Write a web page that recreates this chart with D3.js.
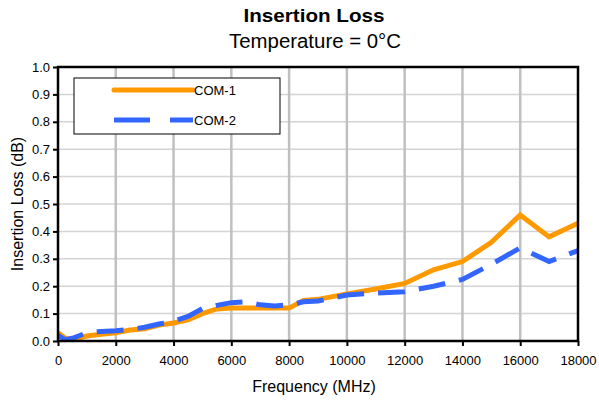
<!DOCTYPE html>
<html>
<head>
<meta charset="utf-8">
<script src="https://cdn.jsdelivr.net/npm/d3@7"></script>
<style>
  html, body { margin: 0; padding: 0; background: #fff; }
  svg { display: block; font-family: "Liberation Sans", Arial, sans-serif; }
</style>
</head>
<body>
<svg id="chart" width="599" height="400"></svg>
<script>
const title = "Insertion Loss";
const subtitle = "Temperature = 0°C";
const xTitle = "Frequency (MHz)";
const yTitle = "Insertion Loss (dB)";
const seriesNames = ["COM-1", "COM-2"];
const seriesColors = ["#ff9900", "#3366ff"];
const xTicks = [0, 2000, 4000, 6000, 8000, 10000, 12000, 14000, 16000, 18000];
const yTicks = [0, 0.1, 0.2, 0.3, 0.4, 0.5, 0.6, 0.7, 0.8, 0.9, 1.0];

const freq = [0, 250, 500, 1000, 1500, 2000, 2500, 3000, 3500, 4000, 4500, 5000, 5500, 6000, 6500, 7000, 7500, 8000, 8500, 9000, 10000, 11000, 12000, 13000, 14000, 15000, 16000, 17000, 18000];
const com1 = [0.03, 0.01, 0.005, 0.018, 0.025, 0.03, 0.04, 0.045, 0.058, 0.066, 0.077, 0.10, 0.117, 0.12, 0.12, 0.12, 0.12, 0.12, 0.148, 0.152, 0.172, 0.19, 0.21, 0.26, 0.29, 0.36, 0.46, 0.38, 0.43];
const com2 = [0.02, 0.005, 0.01, 0.03, 0.035, 0.037, 0.042, 0.05, 0.062, 0.072, 0.09, 0.118, 0.13, 0.14, 0.143, 0.132, 0.128, 0.132, 0.143, 0.146, 0.168, 0.175, 0.18, 0.20, 0.225, 0.28, 0.34, 0.29, 0.33];

const svg = d3.select("#chart");
const L = 58, R = 578, T = 67, B = 341;
const x = d3.scaleLinear().domain([0, 18000]).range([L, R]);
const y = d3.scaleLinear().domain([0, 1]).range([B, T]);

// titles
svg.append("text").attr("x", 314).attr("y", 22).attr("text-anchor", "middle")
  .attr("font-size", 19).attr("font-weight", "bold")
  .attr("textLength", 141).attr("lengthAdjust", "spacingAndGlyphs").text(title);
svg.append("text").attr("x", 315).attr("y", 48).attr("text-anchor", "middle")
  .attr("font-size", 19.5)
  .attr("textLength", 172).attr("lengthAdjust", "spacingAndGlyphs").text(subtitle);

// gridlines
svg.append("g").selectAll("line").data(yTicks.slice(1, -1)).join("line")
  .attr("x1", L).attr("x2", R).attr("y1", d => y(d)).attr("y2", d => y(d))
  .attr("stroke", "#d4d4d4").attr("stroke-width", 1.5);
svg.append("g").selectAll("line").data(xTicks.slice(1, -1)).join("line")
  .attr("y1", T).attr("y2", B).attr("x1", d => x(d)).attr("x2", d => x(d))
  .attr("stroke", "#c0c0c0").attr("stroke-width", 2.5);

// axes
const xAxis = d3.axisBottom(x).tickValues(xTicks).tickFormat(d3.format("d")).tickSize(5).tickSizeOuter(0);
const gx = svg.append("g").attr("transform", `translate(0,${B})`).call(xAxis);
gx.select(".domain").remove();
gx.selectAll(".tick line").attr("stroke", "#000").attr("stroke-width", 2);
gx.selectAll(".tick text").attr("font-size", 13).attr("fill", "#000").attr("y", 24).attr("dy", 0)
  .attr("font-family", "Liberation Sans, Arial, sans-serif");

const yAxis = d3.axisLeft(y).tickValues(yTicks).tickFormat(d3.format(".1f")).tickSize(5).tickSizeOuter(0);
const gy = svg.append("g").attr("transform", `translate(${L},0)`).call(yAxis);
gy.select(".domain").remove();
gy.selectAll(".tick line").attr("stroke", "#000").attr("stroke-width", 2);
gy.selectAll(".tick text").attr("font-size", 13).attr("fill", "#000").attr("x", -8)
  .attr("font-family", "Liberation Sans, Arial, sans-serif");

// axis titles
svg.append("text").attr("x", 314).attr("y", 392).attr("text-anchor", "middle")
  .attr("font-size", 16).text(xTitle);
svg.append("text").attr("transform", `translate(23,${(T + B) / 2}) rotate(-90)`)
  .attr("text-anchor", "middle").attr("font-size", 16).text(yTitle);

// lines
const line = d3.line().x(d => x(d[0])).y(d => y(d[1]));
const data1 = freq.map((f, i) => [f, com1[i]]);
const data2 = freq.map((f, i) => [f, com2[i]]);
svg.append("path").datum(data1).attr("d", line).attr("fill", "none")
  .attr("stroke", seriesColors[0]).attr("stroke-width", 5).attr("stroke-linejoin", "miter");
svg.append("path").datum(data2).attr("d", line).attr("fill", "none")
  .attr("stroke", seriesColors[1]).attr("stroke-width", 5).attr("stroke-dasharray", "27,14");

// plot border
svg.append("rect").attr("x", L).attr("y", T).attr("width", R - L).attr("height", B - T)
  .attr("fill", "none").attr("stroke", "#000").attr("stroke-width", 2.5);

// legend
const lg = svg.append("g");
lg.append("rect").attr("x", 74).attr("y", 78).attr("width", 206).attr("height", 56)
  .attr("fill", "#fff").attr("stroke", "#000").attr("stroke-width", 1);
const legY = [90, 120];
const dashes = [null, "36,20"];
seriesNames.forEach((n, i) => {
  lg.append("line").attr("x1", 114).attr("x2", 193).attr("y1", legY[i]).attr("y2", legY[i])
    .attr("stroke", seriesColors[i]).attr("stroke-width", 5)
    .attr("stroke-linecap", i === 0 ? "round" : "butt")
    .attr("stroke-dasharray", dashes[i]);
  lg.append("text").attr("x", 194).attr("y", legY[i] + 4.5).attr("font-size", 13).text(n);
});
</script>
</body>
</html>
